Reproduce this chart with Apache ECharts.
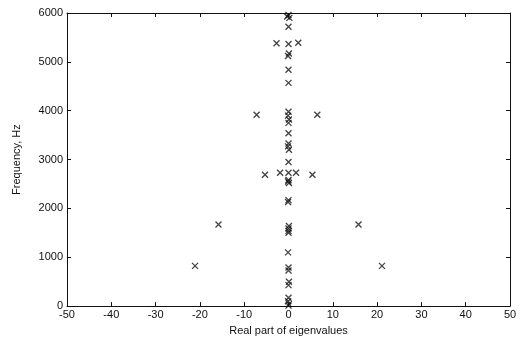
<!DOCTYPE html>
<html>
<head>
<meta charset="utf-8">
<script src="https://cdn.jsdelivr.net/npm/echarts@6/dist/echarts.min.js"></script>
<style>
  html, body { margin: 0; padding: 0; background: #fff; }
  #main { width: 525px; height: 341px; }
</style>
</head>
<body>
<div id="main"></div>
<script>
// eigenvalues: real part and frequency (Hz)
var realParts = [
    0, -0.3, 0.2, 0, 0, 0.1, -0.1, 0, 0,
    0, -0.1, 0.1, 0, 0, 0, -0.1, 0.1, 0, 0,
    0, -0.1, 0.1, 0, -0.1, 0.1, 0, 0, 0, -0.1,
    0, 0, 0.1, 0, 0, -0.1, 0.1, 0,
    -2.7, 2.2, -7.2, 6.5, -1.9, 1.7, -5.3, 5.4, -15.8, 15.8, -21.1, 21.1
];
var frequencies = [
    5960, 5930, 5900, 5720, 5367, 5170, 5120, 4840, 4570,
    3980, 3900, 3820, 3750, 3540, 3330, 3270, 3200, 2950, 2730,
    2580, 2550, 2520, 2170, 2130, 1640, 1590, 1540, 1500, 1100,
    790, 730, 500, 430, 170, 100, 40, 10,
    5380, 5390, 3918, 3918, 2730, 2730, 2690, 2690, 1670, 1670, 823, 823
];
var xTicks = [-50, 50, 10];
var yTicks = [0, 6000, 1000];

var points = realParts.map(function (x, i) { return [x, frequencies[i]]; });

var myChart = echarts.init(document.getElementById('main'));

var tickFont = { fontFamily: 'Liberation Sans, Arial', fontSize: 11, color: '#111' };
var axisLine = { show: true, onZero: false, lineStyle: { color: '#111', width: 1 } };
var plain = function (v) { return String(v); };

var option = {
    backgroundColor: '#fff',
    animation: false,
    grid: { left: 67, right: 15, top: 13, bottom: 34 },
    xAxis: [
        {
            type: 'value', min: xTicks[0], max: xTicks[1], interval: xTicks[2],
            position: 'bottom',
            name: 'Real part of eigenvalues', nameLocation: 'middle', nameGap: 17,
            nameTextStyle: tickFont,
            axisLine: axisLine,
            axisTick: { show: true, inside: true, length: 4, lineStyle: { color: '#111' } },
            axisLabel: Object.assign({ margin: 3, formatter: plain }, tickFont),
            splitLine: { show: false }
        },
        {
            type: 'value', min: xTicks[0], max: xTicks[1], interval: xTicks[2],
            position: 'top',
            axisLine: axisLine,
            axisTick: { show: true, inside: true, length: 4, lineStyle: { color: '#111' } },
            axisLabel: { show: false },
            splitLine: { show: false }
        }
    ],
    yAxis: [
        {
            type: 'value', min: yTicks[0], max: yTicks[1], interval: yTicks[2],
            position: 'left',
            name: 'Frequency, Hz', nameLocation: 'middle', nameGap: 45, nameRotate: 90,
            nameTextStyle: tickFont,
            axisLine: axisLine,
            axisTick: { show: true, inside: true, length: 4, lineStyle: { color: '#111' } },
            axisLabel: Object.assign({ margin: 4, formatter: plain }, tickFont),
            splitLine: { show: false }
        },
        {
            type: 'value', min: yTicks[0], max: yTicks[1], interval: yTicks[2],
            position: 'right',
            axisLine: axisLine,
            axisTick: { show: true, inside: true, length: 4, lineStyle: { color: '#111' } },
            axisLabel: { show: false },
            splitLine: { show: false }
        }
    ],
    series: [
        {
            type: 'scatter',
            data: points,
            symbol: 'path://M0,0L10,10M10,0L0,10',
            symbolSize: 6,
            itemStyle: { color: 'none', borderColor: '#111', borderWidth: 1.3 }
        }
    ]
};

myChart.setOption(option);
</script>
</body>
</html>
